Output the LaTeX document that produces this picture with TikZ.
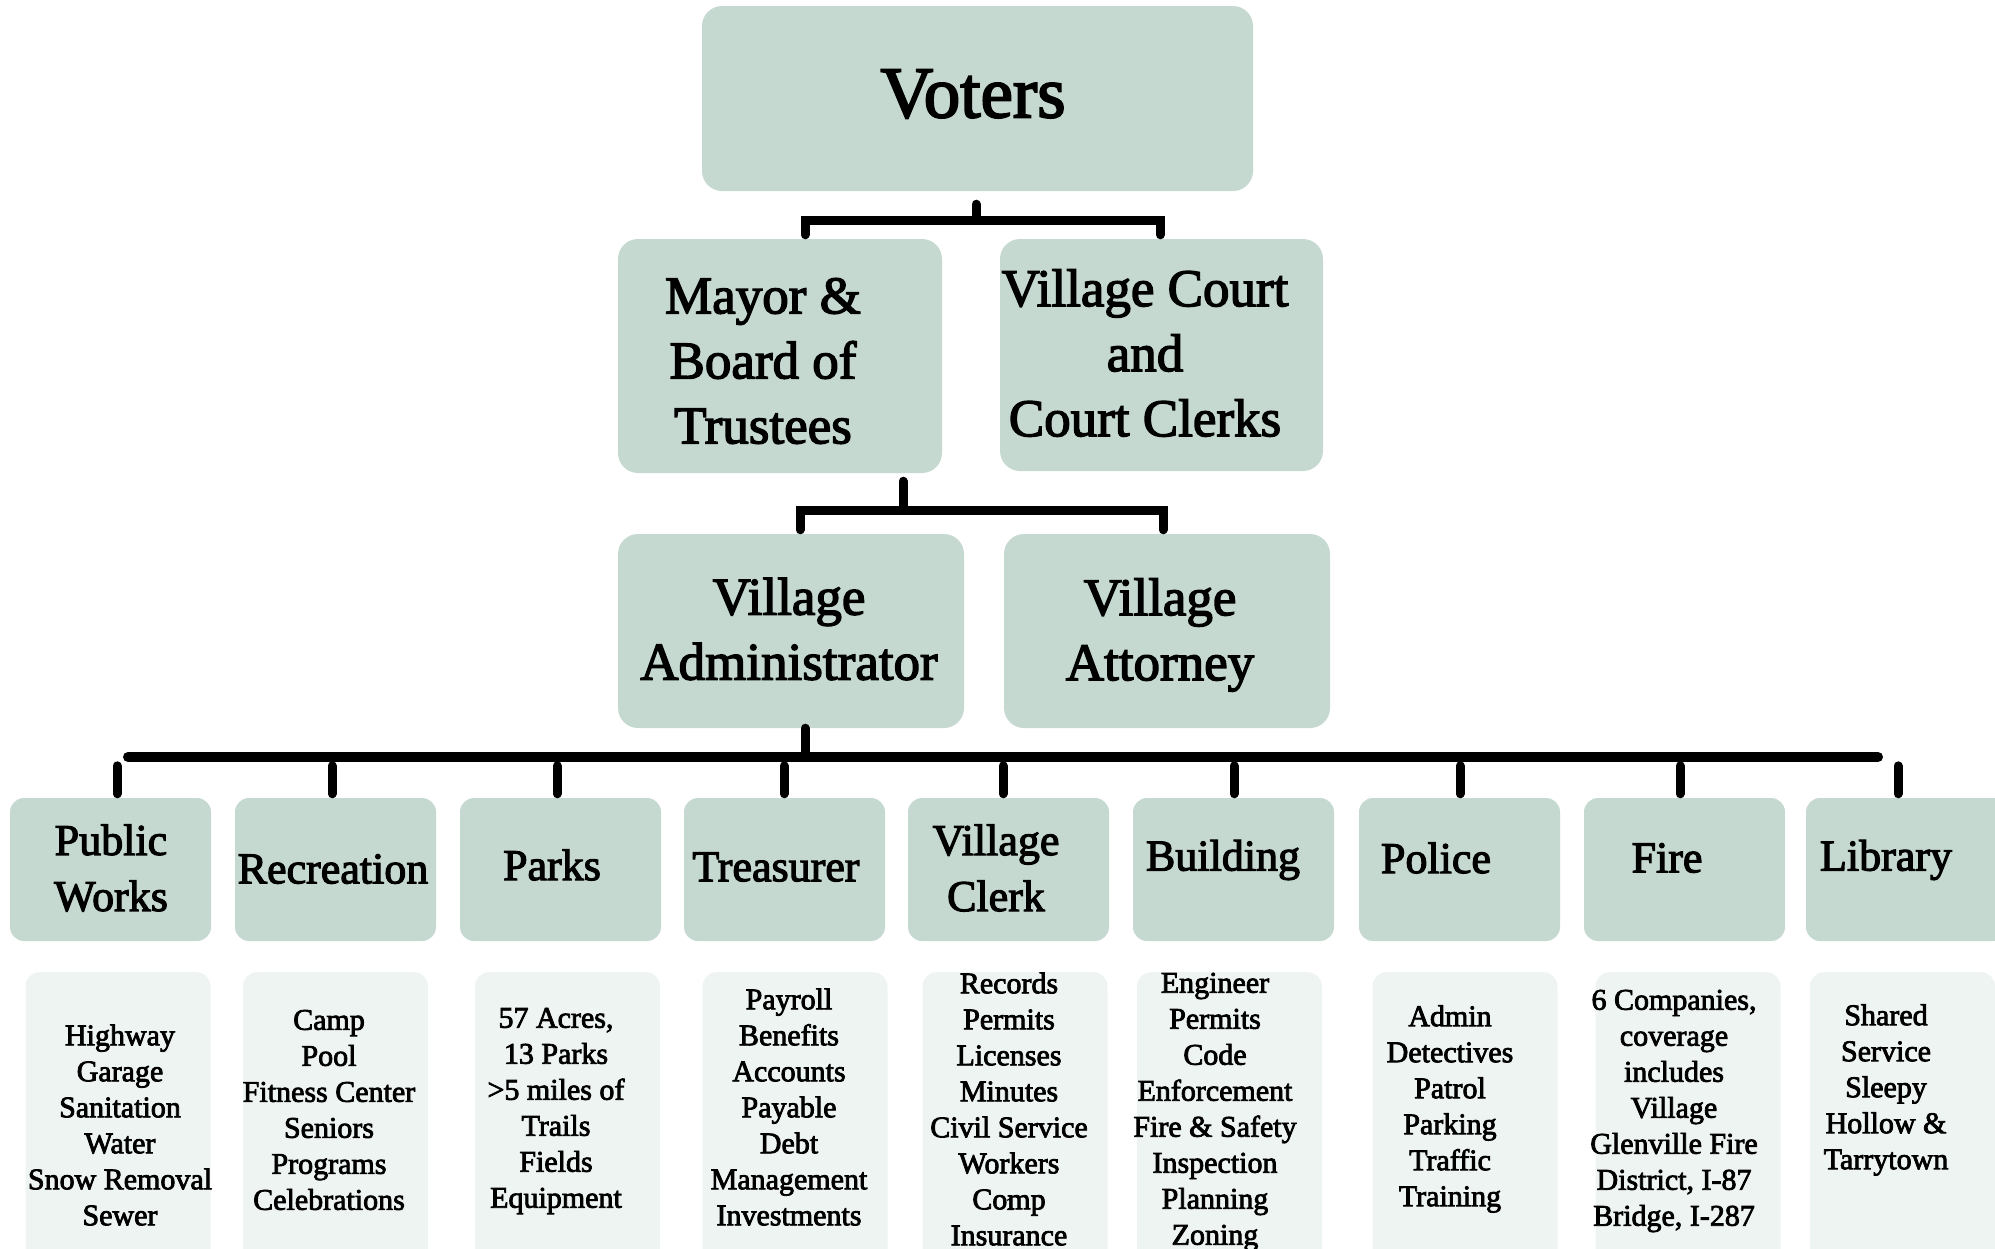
\documentclass[tikz,border=0pt]{standalone}
\usepackage{fontspec}
\newfontfamily\gar[FakeBold=2.6]{Liberation Serif}
\definecolor{boxg}{RGB}{197,217,208}
\definecolor{subg}{RGB}{238,244,242}
\tikzset{
  mbox/.style 2 args={fill=boxg, rounded corners=20pt, minimum width=#1, minimum height=#2, inner sep=0pt},
  dbox/.style={fill=boxg, rounded corners=14pt, minimum width=201pt, minimum height=143pt, inner sep=0pt},
  sbox/.style={fill=subg, rounded corners=14pt, minimum width=185pt, minimum height=320pt, inner sep=0pt, anchor=north},
  conn/.style={line width=9pt, line cap=round, draw=black},
  busline/.style={line width=10pt, line cap=round, draw=black},
  vt/.style={font=\gar\fontsize{73}{80}\selectfont, inner sep=0pt},
  mt/.style={font=\gar\fontsize{53}{65}\selectfont, align=center, inner sep=0pt},
  dt/.style={font=\gar\fontsize{44}{56}\selectfont, align=center, inner sep=0pt},
  st/.style={font=\gar\fontsize{30}{36}\selectfont, align=center, inner sep=0pt}
}
\begin{document}
\begin{tikzpicture}[x=1pt,y=-1pt]
\useasboundingbox (0,0) rectangle (1995,1248);
\clip (0,0) rectangle (1995,1248);
% top levels
\node[mbox={551pt}{185pt}] (voters) at (977.5,98.5) {};
\node[vt] (tvoters) at (973,94) {Voters};
\node[mbox={324pt}{234pt}] (mayor) at (780,356) {};
\node[mt] (tmayor) at (763,361) {Mayor \&\\Board of\\Trustees};
\node[mbox={323pt}{232pt}] (court) at (1161.5,355) {};
\node[mt] (tcourt) at (1145,353) {Village Court\\and\\Court Clerks};
\node[mbox={346pt}{194pt}] (admin) at (791,631) {};
\node[mt] (tadmin) at (789,629) {Village\\Administrator};
\node[mbox={326pt}{194pt}] (attorney) at (1167,631) {};
\node[mt] (tattorney) at (1160,635) {Village\\Attorney};
% departments
\node[dbox] (d1) at (110.5,869.5) {};
\node[dbox] (d2) at (335.5,869.5) {};
\node[dbox] (d3) at (560.5,869.5) {};
\node[dbox] (d4) at (784.5,869.5) {};
\node[dbox] (d5) at (1008.5,869.5) {};
\node[dbox] (d6) at (1233.5,869.5) {};
\node[dbox] (d7) at (1459.5,869.5) {};
\node[dbox] (d8) at (1684.5,869.5) {};
\node[dbox] (d9) at (1906.5,869.5) {};
\node[dt] (t1) at (111,868) {Public\\Works};
\node[dt] (t2) at (333,869) {Recreation};
\node[dt] (t3) at (552,865) {Parks};
\node[dt] (t4) at (776,867) {Treasurer};
\node[dt] (t5) at (996,868) {Village\\Clerk};
\node[dt] (t6) at (1223,860) {Building};
\node[dt] (t7) at (1436,858) {Police};
\node[dt] (t8) at (1667,858) {Fire};
\node[dt] (t9) at (1886,860) {Library};
% sub boxes
\node[sbox] (s1) at (118,972) {};
\node[sbox] (s2) at (335.5,972) {};
\node[sbox] (s3) at (567.5,972) {};
\node[sbox] (s4) at (795,972) {};
\node[sbox] (s5) at (1015,972) {};
\node[sbox] (s6) at (1229.5,972) {};
\node[sbox] (s7) at (1465,972) {};
\node[sbox] (s8) at (1688,972) {};
\node[sbox] (s9) at (1902.5,972) {};
\node[st] (u1) at (120,1125) {Highway\\Garage\\Sanitation\\Water\\Snow Removal\\Sewer};
\node[st] (u2) at (329,1110) {Camp\\Pool\\Fitness Center\\Seniors\\Programs\\Celebrations};
\node[st] (u3) at (556,1111) {57 Acres,\\13 Parks\\>5 miles of\\Trails\\Fields\\Equipment};
\node[st] (u4) at (789,1107) {Payroll\\Benefits\\Accounts\\Payable\\Debt\\Management\\Investments};
\node[st] (u5) at (1009,1109) {Records\\Permits\\Licenses\\Minutes\\Civil Service\\Workers\\Comp\\Insurance};
\node[st] (u6) at (1215,1112) {Engineer\\Permits\\Code\\Enforcement\\Fire \& Safety\\Inspection\\Planning\\Zoning};
\node[st] (u7) at (1450,1109) {Admin\\Detectives\\Patrol\\Parking\\Traffic\\Training};
\node[st] (u8) at (1674,1111) {6 Companies,\\coverage\\includes\\Village\\Glenville Fire\\District, I-87\\Bridge, I-287};
\node[st] (u9) at (1886,1090) {Shared\\Service\\Sleepy\\Hollow \&\\Tarrytown};
\node[font=\gar\fontsize{18}{18}\selectfont, inner sep=0pt] (mark) at (1010,1204) {1};
% connectors
\coordinate (j1) at (976,220);
\draw[conn] (voters.south -| j1) ++(0,13) -- (j1);
\draw[conn] (j1) -| ([xshift=25pt,yshift=4pt]mayor.north);
\draw[conn] (j1) -| ([xshift=-1pt,yshift=4pt]court.north);
\coordinate (j2) at (903,510);
\draw[conn] (mayor.south -| j2) ++(0,8) -- (j2);
\draw[conn] (j2) -| ([xshift=9pt,yshift=4pt]admin.north);
\draw[conn] (j2) -| ([xshift=-4pt,yshift=4pt]attorney.north);
\coordinate (j3) at (805,757);
\coordinate (barL) at (128,757);
\coordinate (barR) at (1878,757);
\draw[conn] (admin.south -| j3) -- (j3);
\draw[busline] (barL) -- (barR);
\draw[conn] ([xshift=6.5pt,yshift=4pt]d1.north) -- ++(0,-28);
\draw[conn] ([xshift=-3.5pt,yshift=4pt]d2.north) -- ++(0,-28);
\draw[conn] ([xshift=-3.5pt,yshift=4pt]d3.north) -- ++(0,-28);
\draw[conn] ([xshift=-0.5pt,yshift=4pt]d4.north) -- ++(0,-28);
\draw[conn] ([xshift=-5.5pt,yshift=4pt]d5.north) -- ++(0,-28);
\draw[conn] ([xshift=0.5pt,yshift=4pt]d6.north) -- ++(0,-28);
\draw[conn] ([xshift=0.5pt,yshift=4pt]d7.north) -- ++(0,-28);
\draw[conn] ([xshift=-4.5pt,yshift=4pt]d8.north) -- ++(0,-28);
\draw[conn] ([xshift=-8.5pt,yshift=4pt]d9.north) -- ++(0,-28);
\end{tikzpicture}
\end{document}
